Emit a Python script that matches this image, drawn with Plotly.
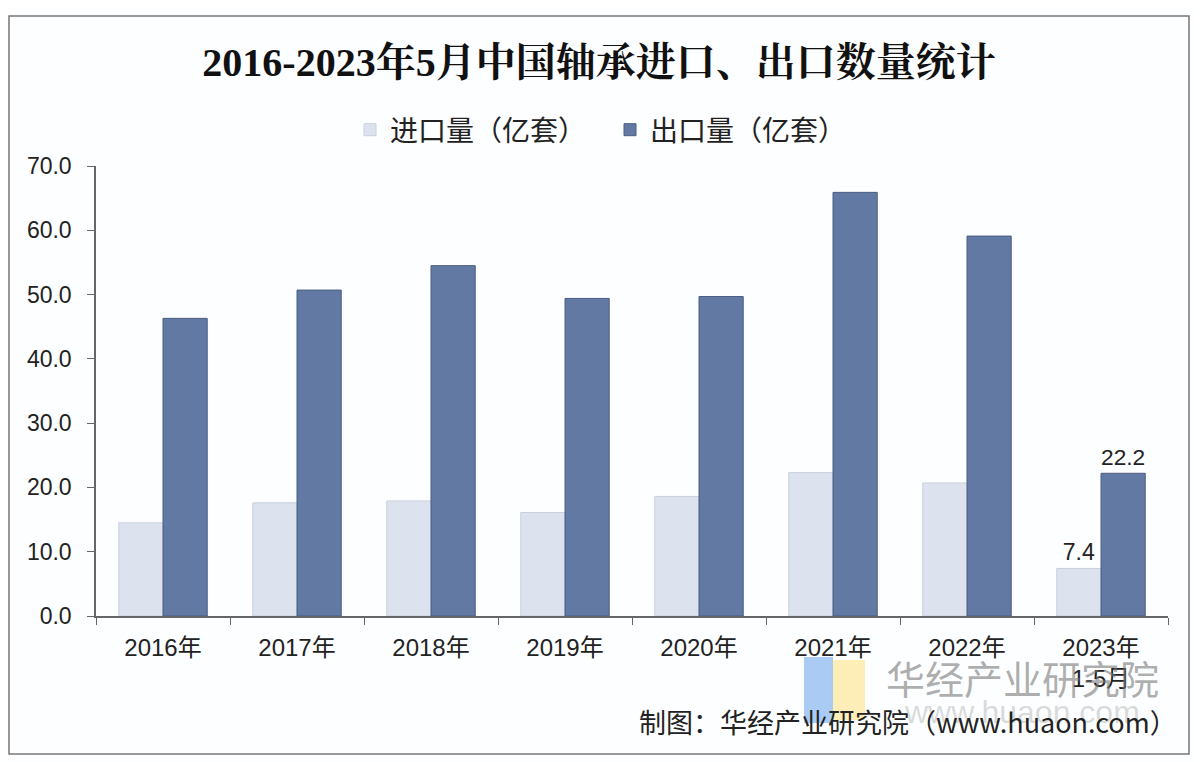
import plotly.graph_objects as go

categories = ["2016年", "2017年", "2018年", "2019年", "2020年", "2021年", "2022年", "2023年<br>1-5月"]
imports = [14.5, 17.6, 17.9, 16.1, 18.6, 22.3, 20.7, 7.4]
exports = [46.3, 50.7, 54.5, 49.4, 49.7, 65.9, 59.1, 22.2]
import_labels = ["", "", "", "", "", "", "", "7.4"]
export_labels = ["", "", "", "", "", "", "", "22.2"]
y_ticks = [0, 10, 20, 30, 40, 50, 60, 70]

OFF = 8  # page body margin offset
W, H = 1194, 754
L, R, T, B = 88, 34, 158, 146
pw, ph = W - L - R, H - T - B


def px_x(x):
    return (x - OFF - L) / pw


def px_y(y):
    return (H - B - (y - OFF)) / ph


fig = go.Figure()
fig.add_trace(go.Bar(
    x=categories, y=imports, name="进口量（亿套）",
    marker=dict(color="#dce3ee", line=dict(color="#c9d1de", width=1)),
    text=import_labels, textposition="outside", cliponaxis=False,
    textfont=dict(size=23, color="#222222", family="Liberation Sans, Arial"),
))
fig.add_trace(go.Bar(
    x=categories, y=exports, name="出口量（亿套）",
    marker=dict(color="#6279a3", line=dict(color="#4b5e82", width=1)),
    text=export_labels, textposition="outside", cliponaxis=False,
    textfont=dict(size=23, color="#222222", family="Liberation Sans, Arial"),
))

fig.update_layout(
    width=W, height=H,
    margin=dict(l=L, r=R, t=T, b=B),
    paper_bgcolor="#fdfeff", plot_bgcolor="#fdfeff",
    barmode="group", bargap=0.34, bargroupgap=0,
    font=dict(family="Liberation Sans, Noto Sans CJK SC", color="#222222"),
    title=dict(
        text="<b>2016-2023年5月中国轴承进口、出口数量统计</b>",
        x=px_x(599), xanchor="center", xref="paper",
        y=1 - (62 - OFF) / H, yanchor="middle",
        font=dict(size=40, family="Liberation Serif, Noto Serif CJK SC, Noto Sans CJK SC", color="#111111"),
    ),
    legend=dict(
        orientation="h", x=px_x(610), xanchor="center", y=px_y(130), yanchor="middle",
        font=dict(size=28, family="Noto Sans CJK SC", color="#222222"),
        itemwidth=30, bgcolor="rgba(0,0,0,0)", traceorder="normal",
        entrywidth=215, entrywidthmode="pixels",
    ),
    xaxis=dict(
        showline=True, linecolor="#666666", linewidth=1.5,
        ticks="outside", tickson="boundaries", ticklen=7, tickcolor="#666666",
        ticklabelstandoff=9,
        tickfont=dict(size=24, family="Liberation Sans, Noto Sans CJK SC", color="#222222"),
        showgrid=False,
    ),
    yaxis=dict(
        range=[0, 70], tickvals=y_ticks, tickformat=".1f",
        showline=True, linecolor="#666666", linewidth=1.5,
        ticks="outside", ticklen=7, tickcolor="#666666",
        ticklabelstandoff=11,
        tickfont=dict(size=23, family="Liberation Sans, Arial", color="#222222"),
        showgrid=False, zeroline=False,
    ),
    showlegend=True,
)

# outer frame
fig.add_shape(type="rect", xref="paper", yref="paper",
              x0=px_x(9), x1=px_x(1189), y0=px_y(754), y1=px_y(16),
              line=dict(color="#777777", width=1.5), fillcolor="rgba(0,0,0,0)", layer="below")

# watermark logo
fig.add_shape(type="rect", xref="paper", yref="paper",
              x0=px_x(804), x1=px_x(833), y0=px_y(723), y1=px_y(657),
              line=dict(width=0), fillcolor="rgba(140,185,240,0.75)")
fig.add_shape(type="rect", xref="paper", yref="paper",
              x0=px_x(833), x1=px_x(865), y0=px_y(720), y1=px_y(660),
              line=dict(width=0), fillcolor="rgba(252,232,160,0.75)")

fig.add_annotation(text="华经产业研究院", xref="paper", yref="paper",
                   x=px_x(1022), y=px_y(677), xanchor="center", yanchor="middle",
                   showarrow=False, font=dict(size=39, family="Noto Sans CJK SC", color="rgba(120,120,120,0.6)"))
fig.add_annotation(text="www.huaon.com", xref="paper", yref="paper",
                   x=px_x(1022), y=px_y(712), xanchor="center", yanchor="middle",
                   showarrow=False, font=dict(size=32, family="Liberation Sans", color="rgba(150,150,150,0.35)"))
fig.add_annotation(text="制图：华经产业研究院（www.huaon.com）", xref="paper", yref="paper",
                   x=px_x(908), y=px_y(721), xanchor="center", yanchor="middle",
                   showarrow=False, font=dict(size=27, family="Noto Sans CJK SC", color="#222222"))

fig.write_html("out.html")
